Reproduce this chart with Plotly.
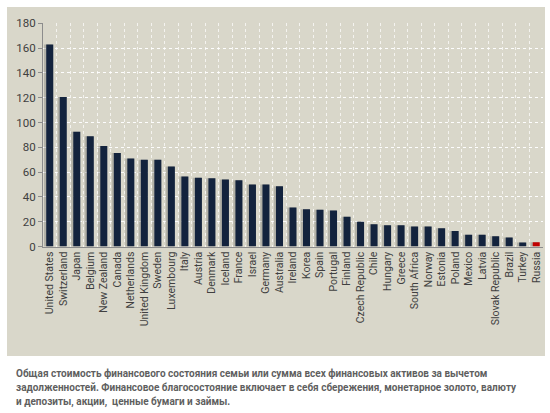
import plotly.graph_objects as go

countries = ["United States", "Switzerland", "Japan", "Belgium", "New Zealand", "Canada",
             "Netherlands", "United Kingdom", "Sweden", "Luxembourg", "Italy", "Austria",
             "Denmark", "Iceland", "France", "Israel", "Germany", "Australia", "Ireland",
             "Korea", "Spain", "Portugal", "Finland", "Czech Republic", "Chile", "Hungary",
             "Greece", "South Africa", "Norway", "Estonia", "Poland", "Mexico", "Latvia",
             "Slovak Republic", "Brazil", "Turkey", "Russia"]
values = [163, 120.5, 92.5, 89, 81, 75.5, 71, 70, 70, 64.5, 56.5, 55.5, 55, 54, 53.5,
          50, 50, 48.5, 31.5, 30, 29.6, 29, 24, 20, 18, 17.2, 17.2, 16.1, 16.1, 14.8,
          12.6, 9.4, 9.4, 8.3, 7.3, 3.2, 3.5]
highlight = "Russia"
y_ticks = [0, 20, 40, 60, 80, 100, 120, 140, 160, 180]
caption_lines = [
    "Общая стоимость финансового состояния семьи или сумма всех финансовых активов за вычетом",
    "задолженностей. Финансовое благосостояние включает в себя сбережения, монетарное золото, валюту",
    "и депозиты, акции,  ценные бумаги и займы.",
]

NAVY = "#13233d"
RED = "#c00000"
bar_colors = [RED if c == highlight else NAVY for c in countries]

W, H = 550, 413
fig = go.Figure()
# soft shadow
fig.add_trace(go.Bar(x=countries, y=values, width=0.62, offset=-0.42,
                     marker=dict(color="rgba(60,60,60,0.25)", line=dict(width=0)),
                     hoverinfo="skip", showlegend=False))
fig.add_trace(go.Bar(x=countries, y=values, width=0.52, offset=-0.26,
                     marker=dict(color=bar_colors, line=dict(width=0)),
                     showlegend=False))

fig.update_layout(
    width=W, height=H,
    margin=dict(l=0, r=0, t=0, b=0),
    paper_bgcolor="white",
    plot_bgcolor="rgba(0,0,0,0)",
    barmode="overlay",
    font=dict(family="Roboto, Open Sans, sans-serif", color="#404040"),
    xaxis=dict(
        domain=[43 / W, 543 / W],
        type="category",
        tickson="boundaries",
        showgrid=True, gridcolor="rgba(255,255,255,0.7)", griddash="dot", gridwidth=1,
        tickangle=-90,
        tickfont=dict(size=10.5, family="Roboto, Open Sans, sans-serif", color="#404040"),
        showline=True, linecolor="#8c8c8c", linewidth=1,
        ticks="", range=[-0.5, len(countries) - 0.5],
        automargin=False,
    ),
    yaxis=dict(
        domain=[(H - 246.5) / H, (H - 23.3) / H],
        range=[0, 180],
        tickvals=y_ticks,
        showgrid=True, gridcolor="rgba(255,255,255,0.95)", griddash="dot", gridwidth=1,
        showline=True, linecolor="#8c8c8c", linewidth=1,
        ticks="outside", ticklen=4, tickcolor="#8c8c8c",
        tickfont=dict(size=11.5, color="#404040"),
        zeroline=False, automargin=False,
    ),
    shapes=[dict(type="rect", xref="paper", yref="paper", layer="below",
                 x0=7 / W, x1=545 / W, y0=(H - 356) / H, y1=(H - 7) / H,
                 fillcolor="#d9d7ca", line=dict(width=0))],
)

for i, line in enumerate(caption_lines):
    fig.add_annotation(text="<b>" + line + "</b>", xref="paper", yref="paper",
                       x=14 / W, y=(H - (373 + 14.5 * i)) / H, xanchor="left", yanchor="middle",
                       showarrow=False,
                       font=dict(size=10, color="#5f5f5f",
                                 family="Roboto, Open Sans, sans-serif"))

fig.write_html("out.html", config={"displayModeBar": False},
               post_script="document.body.style.margin='0';document.body.style.overflow='hidden';")
